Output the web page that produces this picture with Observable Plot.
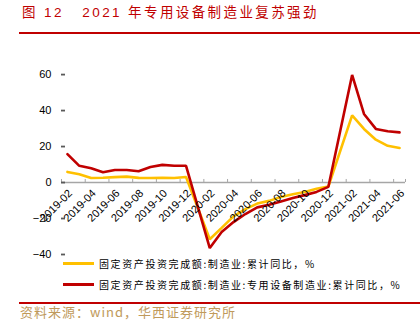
<!DOCTYPE html>
<html>
<head>
<meta charset="utf-8">
<script src="https://cdn.jsdelivr.net/npm/d3@7"></script>
<script src="https://cdn.jsdelivr.net/npm/@observablehq/plot@0.6"></script>
<style>
  html, body { margin: 0; padding: 0; background: #fff; }
  #wrap { position: relative; width: 420px; height: 326px; overflow: hidden; font-family: "Liberation Sans", "Noto Sans CJK SC", sans-serif; }
  #chart { position: absolute; left: 0; top: 0; }
  .title { position: absolute; left: 22px; top: 3px; font-size: 13.5px; letter-spacing: 2.4px; line-height: 20px; color: #c00000; white-space: pre; font-family: "Liberation Sans", "Noto Sans CJK SC", sans-serif; }
  .topline { position: absolute; left: 19px; right: 0; top: 32px; height: 1.5px; background: #c00000; }
  .botline { position: absolute; left: 19px; right: 0; top: 302px; height: 2px; background: #c00000; }
  .source { position: absolute; left: 20px; top: 303px; font-size: 13px; letter-spacing: 1px; line-height: 18px; color: #c09a5b; white-space: pre; font-family: "Noto Sans CJK SC", sans-serif; }
  .leg { position: absolute; left: 63px; display: flex; align-items: center; font-size: 10px; letter-spacing: 1.6px; color: #000; white-space: pre; font-family: "Noto Sans CJK SC", sans-serif; }
  .leg span.sw { display: inline-block; width: 31px; height: 3px; margin-right: 5px; }
</style>
</head>
<body>
<div id="wrap">
  <div class="title">图 12   2021 年专用设备制造业复苏强劲</div>
  <div class="topline"></div>
  <div id="chart"></div>
  <div class="leg" id="leg1" style="top:256px"></div>
  <div class="leg" id="leg2" style="top:277px"></div>
  <div class="botline"></div>
  <div class="source">资料来源：wind，华西证券研究所</div>
</div>
<script>
// Categories: monthly from 2019-02 to 2021-06 (January cells empty)
const months = [
  "2019-02","2019-03","2019-04","2019-05","2019-06","2019-07","2019-08","2019-09","2019-10","2019-11","2019-12",
  "2020-01","2020-02","2020-03","2020-04","2020-05","2020-06","2020-07","2020-08","2020-09","2020-10","2020-11","2020-12",
  "2021-01","2021-02","2021-03","2021-04","2021-05","2021-06"
];
// 固定资产投资完成额:制造业:累计同比, %
const manufacturing = [
  5.9, 4.6, 2.5, 2.7, 3.0, 3.3, 2.6, 2.5, 2.6, 2.5, 3.1,
  null, -31.5, -25.2, -18.8, -14.8, -11.7, -10.2, -8.1, -6.5, -5.3, -3.5, -2.2,
  null, 37.3, 29.8, 23.8, 20.4, 19.2
];
// 固定资产投资完成额:制造业:专用设备制造业:累计同比, %
const specialEquipment = [
  15.8, 9.3, 7.9, 5.7, 7.0, 7.0, 6.3, 8.6, 9.8, 9.3, 9.3,
  null, -36.4, -27.5, -22.0, -17.5, -13.8, -12.3, -10.5, -8.6, -7.0, -5.2, -2.4,
  null, 59.8, 38.1, 29.8, 28.5, 27.9
];
const seriesNames = [
  "固定资产投资完成额:制造业:累计同比，%",
  "固定资产投资完成额:制造业:专用设备制造业:累计同比，%"
];
const seriesColors = ["#ffc000", "#c00000"];
const yTicks = [-40, -20, 0, 20, 40, 60];

const rows = [];
months.forEach((m, i) => {
  if (manufacturing[i] != null) rows.push({i, month: m, value: manufacturing[i], series: seriesNames[0]});
});
months.forEach((m, i) => {
  if (specialEquipment[i] != null) rows.push({i, month: m, value: specialEquipment[i], series: seriesNames[1]});
});
const labelIdx = months.map((m, i) => i).filter(i => i % 2 === 0);
const tickBounds = labelIdx.map(i => i - 0.5).concat([months.length - 0.5]);

const chart = Plot.plot({
  width: 420,
  height: 326,
  marginTop: 48,
  marginBottom: 72,
  marginLeft: 61,
  marginRight: 15,
  style: {fontFamily: "Liberation Sans, Arial, sans-serif", fontSize: "11px", background: "transparent"},
  x: {type: "linear", domain: [-0.5, months.length - 0.5], axis: null},
  y: {domain: [-40, 74.5]},
  color: {domain: seriesNames, range: seriesColors},
  marks: [
    Plot.ruleY([0], {stroke: "#a6a6a6", strokeWidth: 1.5}),
    Plot.ruleX(tickBounds, {x: d => d, y1: 0, y2: 1.7, stroke: "#a6a6a6", strokeWidth: 1}),
    Plot.axisY(yTicks, {anchor: "left", tickSize: -4, tickPadding: 14, line: true, stroke: "#595959", strokeWidth: 1.8, fill: "#000", fontSize: 11, label: null}),
    Plot.line(rows, {x: "i", y: "value", z: "series", stroke: "series", strokeWidth: 2.6, strokeLinejoin: "miter"}),
    Plot.text(labelIdx, {x: d => d, y: 0, text: d => months[d], rotate: -45, textAnchor: "end", dx: 3, dy: 9, fill: "#000", fontSize: 11})
  ]
});
document.getElementById("chart").appendChild(chart);

[["leg1", 0], ["leg2", 1]].forEach(([id, k]) => {
  const el = document.getElementById(id);
  const sw = document.createElement("span");
  sw.className = "sw";
  sw.style.background = seriesColors[k];
  el.appendChild(sw);
  el.appendChild(document.createTextNode(seriesNames[k]));
});
</script>
</body>
</html>
